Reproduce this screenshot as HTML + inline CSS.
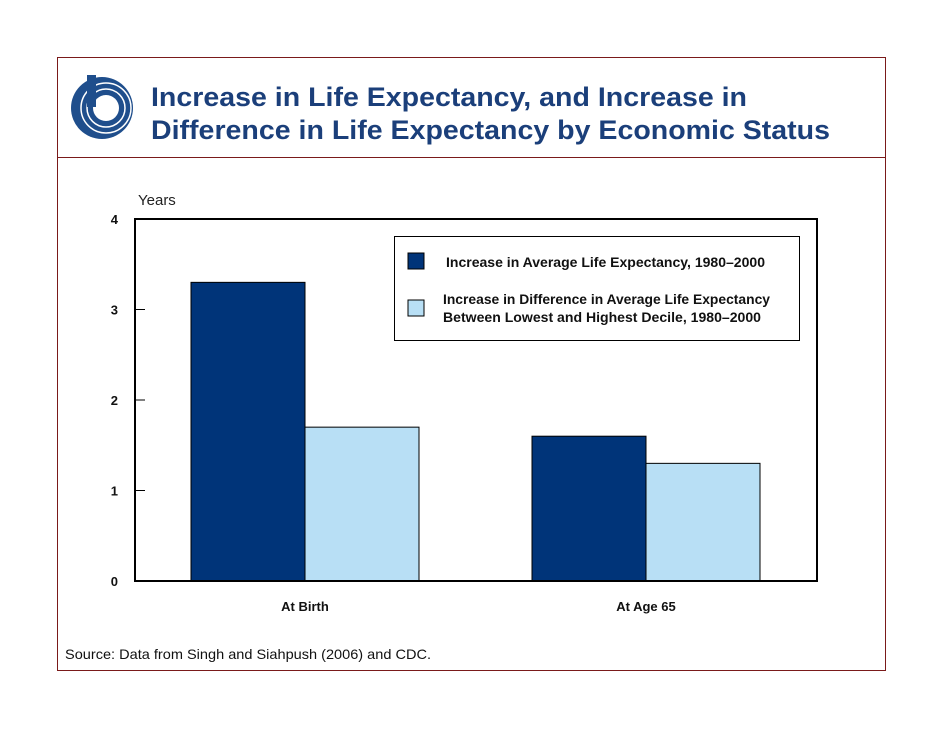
<!DOCTYPE html>
<html><head><meta charset="utf-8"><style>
body{margin:0;background:#fff;width:942px;height:728px;overflow:hidden;font-family:"Liberation Sans",sans-serif}
</style></head><body>
<svg width="942" height="728">
<rect x="57.5" y="57.5" width="828" height="613" fill="none" stroke="#7a1a1a" stroke-width="1"/>
<line x1="57" y1="157.5" x2="886" y2="157.5" stroke="#7a1a1a"/>
<g>
<circle cx="102" cy="108" r="31" fill="#1f4e8c"/>
<circle cx="106" cy="108" r="25" fill="none" stroke="#fff" stroke-width="1.5"/>
<circle cx="106" cy="108" r="19" fill="none" stroke="#fff" stroke-width="1.5"/>
<circle cx="106" cy="108" r="13" fill="#fff"/>
<rect x="87" y="75" width="9" height="32" fill="#1f4e8c"/>
</g>
<text x="151" y="106" font-size="27" font-weight="bold" fill="#1b3f7a" textLength="596" lengthAdjust="spacingAndGlyphs">Increase in Life Expectancy, and Increase in</text>
<text x="151" y="139" font-size="27" font-weight="bold" fill="#1b3f7a" textLength="679" lengthAdjust="spacingAndGlyphs">Difference in Life Expectancy by Economic Status</text>
<text x="138" y="205" font-size="15" fill="#222">Years</text>
<g id="plot"></g>
<text x="65" y="659" font-size="14" fill="#111" textLength="366" lengthAdjust="spacingAndGlyphs">Source: Data from Singh and Siahpush (2006) and CDC.</text>
</svg>
<script>
const categories=["At Birth","At Age 65"];
const seriesAvg=[3.3,1.6];
const seriesDiff=[1.7,1.3];
const yTicks=[0,1,2,3,4];
const ns="http://www.w3.org/2000/svg";
const g=document.getElementById('plot');
const L=135,R=817,T=219,B=581;
const y=v=>B-(v/4)*(B-T);
const groupCenters=[305,646];
const bw=114;
function mk(t,a){const e=document.createElementNS(ns,t);for(const k in a)e.setAttribute(k,a[k]);g.appendChild(e);return e;}
categories.forEach((c,i)=>{
 const cx=groupCenters[i];
 let b=mk('rect',{x:cx-bw,y:y(seriesAvg[i]),width:bw,height:B-y(seriesAvg[i]),fill:'#003479',stroke:'#000','stroke-width':1});
 
 
 let d=mk('rect',{x:cx,y:y(seriesDiff[i]),width:bw,height:B-y(seriesDiff[i]),fill:'#b8dff5',stroke:'#000','stroke-width':1});
 
 
 let t=mk('text',{x:cx,y:611,'font-size':13,'font-weight':'bold','text-anchor':'middle',fill:'#111'});
 t.textContent=c;
 
 
});
yTicks.forEach(v=>{
 let l=mk('line',{x1:L,x2:L+10,y1:y(v),y2:y(v),stroke:'#000','stroke-width':1});
 
 
 let t=mk('text',{x:118,y:y(v)+5,'font-size':13,'font-weight':'bold','text-anchor':'end',fill:'#111'});
 t.textContent=v;
 
 
});
let ax=mk('path',{d:`M${L},${T} H${R} V${B} H${L} Z`,fill:'none',stroke:'#000','stroke-width':2});


let lb=mk('rect',{x:394.5,y:236.5,width:405,height:104,fill:'#fff',stroke:'#000','stroke-width':1});


let s1=mk('rect',{x:408,y:253,width:16,height:16,fill:'#003479',stroke:'#000'});


let s2=mk('rect',{x:408,y:300,width:16,height:16,fill:'#b8dff5',stroke:'#000'});


[["Increase in Average Life Expectancy, 1980–2000",446,267,319],["Increase in Difference in Average Life Expectancy",443,304,327],["Between Lowest and Highest Decile, 1980–2000",443,322,318]].forEach((a,i)=>{
 let t=mk('text',{x:a[1],y:a[2],'font-size':13.5,'font-weight':'bold',fill:'#111',textLength:a[3],lengthAdjust:'spacingAndGlyphs'});
 t.textContent=a[0];
 
 
});
</script>
</body></html>
